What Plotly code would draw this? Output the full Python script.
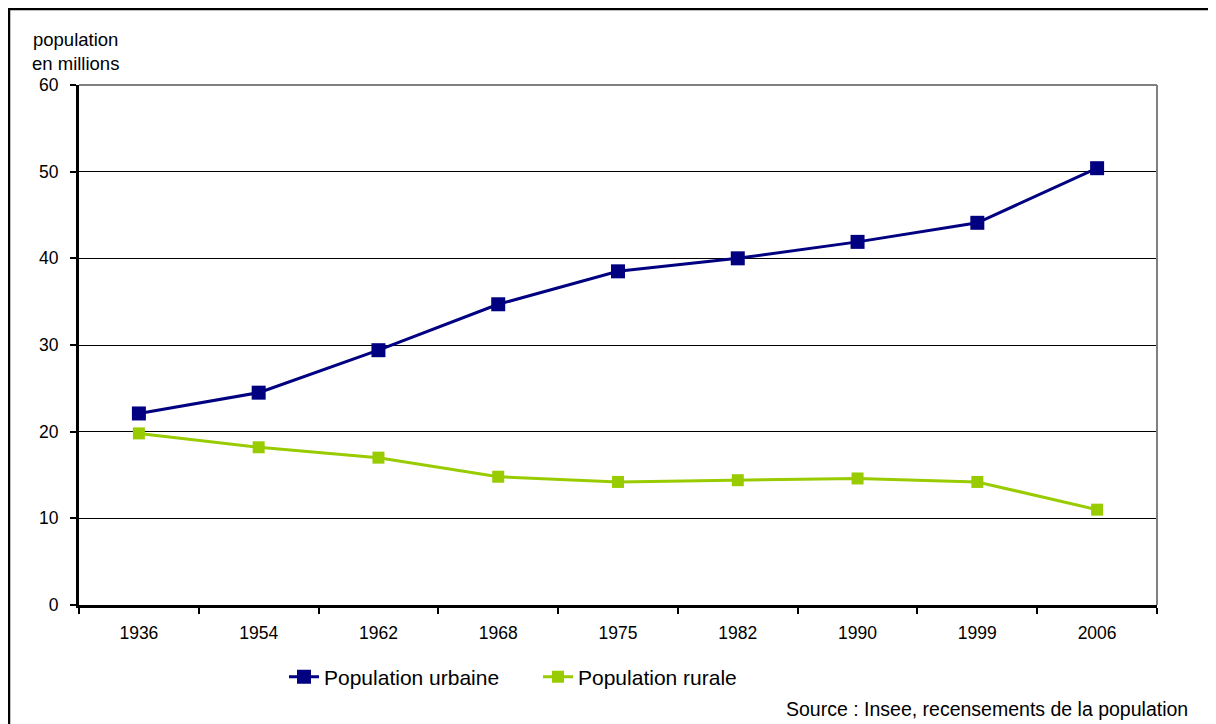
import plotly.graph_objects as go

years = ["1936", "1954", "1962", "1968", "1975", "1982", "1990", "1999", "2006"]
urbaine = [22.1, 24.5, 29.4, 34.7, 38.5, 40.0, 41.9, 44.1, 50.4]
rurale = [19.8, 18.2, 17.0, 14.8, 14.2, 14.4, 14.6, 14.2, 11.0]
y_ticks = [0, 10, 20, 30, 40, 50, 60]

FONT = "Liberation Sans, Arial, sans-serif"

fig = go.Figure()
fig.add_trace(go.Scatter(
    x=years, y=urbaine, name="Population urbaine", mode="lines+markers",
    line=dict(color="#000080", width=3),
    marker=dict(symbol="square", size=14, color="#000080"),
))
fig.add_trace(go.Scatter(
    x=years, y=rurale, name="Population rurale", mode="lines+markers",
    line=dict(color="#99CC00", width=3),
    marker=dict(symbol="square", size=12, color="#99CC00"),
))

OFF = 8  # page body margin
W, H = 1216 - OFF, 724 - OFF
# plot area in window pixels: x 79..1157, y 85..605
L, R, T, B = 79 - OFF, 1216 - 1157, 85 - OFF, 724 - 605
pw, ph = W - L - R, H - T - B

def px(x):  # window pixel -> paper
    return (x - OFF - L) / pw

def py(y):
    return (T + ph - (y - OFF)) / ph

fig.update_layout(
    width=W, height=H,
    margin=dict(l=L, r=R, t=T, b=B, autoexpand=False),
    paper_bgcolor="white", plot_bgcolor="white",
    font=dict(family=FONT, color="black", size=17),
    showlegend=True,
    legend=dict(
        orientation="h", x=px(538), xanchor="center", y=py(677), yanchor="middle",
        font=dict(size=21, family=FONT, color="black"),
        itemwidth=30, tracegroupgap=0, bgcolor="rgba(0,0,0,0)",
        entrywidth=209, entrywidthmode="pixels",
    ),
    xaxis=dict(
        type="category", tickson="boundaries", ticks="outside", ticklen=6,
        tickcolor="black", tickwidth=2, showline=True, linecolor="black", linewidth=3,
        showgrid=False, tickfont=dict(size=17.5), ticklabelstandoff=10,
        range=[-0.5, len(years) - 0.5], fixedrange=True,
    ),
    yaxis=dict(
        range=[0, 60], tickvals=y_ticks, ticks="outside", ticklen=6, tickcolor="black",
        tickwidth=2, showline=True, linecolor="black", linewidth=3,
        showgrid=True, gridcolor="#000000", gridwidth=1, zeroline=False,
        tickfont=dict(size=17.5), ticklabelstandoff=8,
    ),
    annotations=[
        dict(text="population<br>en millions", xref="paper", yref="paper",
             x=px(75), y=py(51), xanchor="center", yanchor="middle",
             showarrow=False, font=dict(size=18.5, family=FONT, color="black"), align="center"),
        dict(text="Source : Insee, recensements de la population", xref="paper", yref="paper",
             x=px(1190), y=py(709), xanchor="right", yanchor="middle",
             showarrow=False, font=dict(size=19.5, family=FONT, color="black")),
    ],
    shapes=[
        # outer frame
        dict(type="rect", xref="paper", yref="paper", x0=px(9), x1=px(1260),
             y0=py(780), y1=py(9), line=dict(color="black", width=2.5), layer="below"),
        # top and right plot border (grey)
        dict(type="line", xref="paper", yref="paper", x0=0, x1=1, y0=1, y1=1,
             line=dict(color="#808080", width=2), layer="above"),
        dict(type="line", xref="paper", yref="paper", x0=1, x1=1, y0=0, y1=1,
             line=dict(color="#808080", width=2), layer="above"),
    ],
)

fig.write_html("out.html")
